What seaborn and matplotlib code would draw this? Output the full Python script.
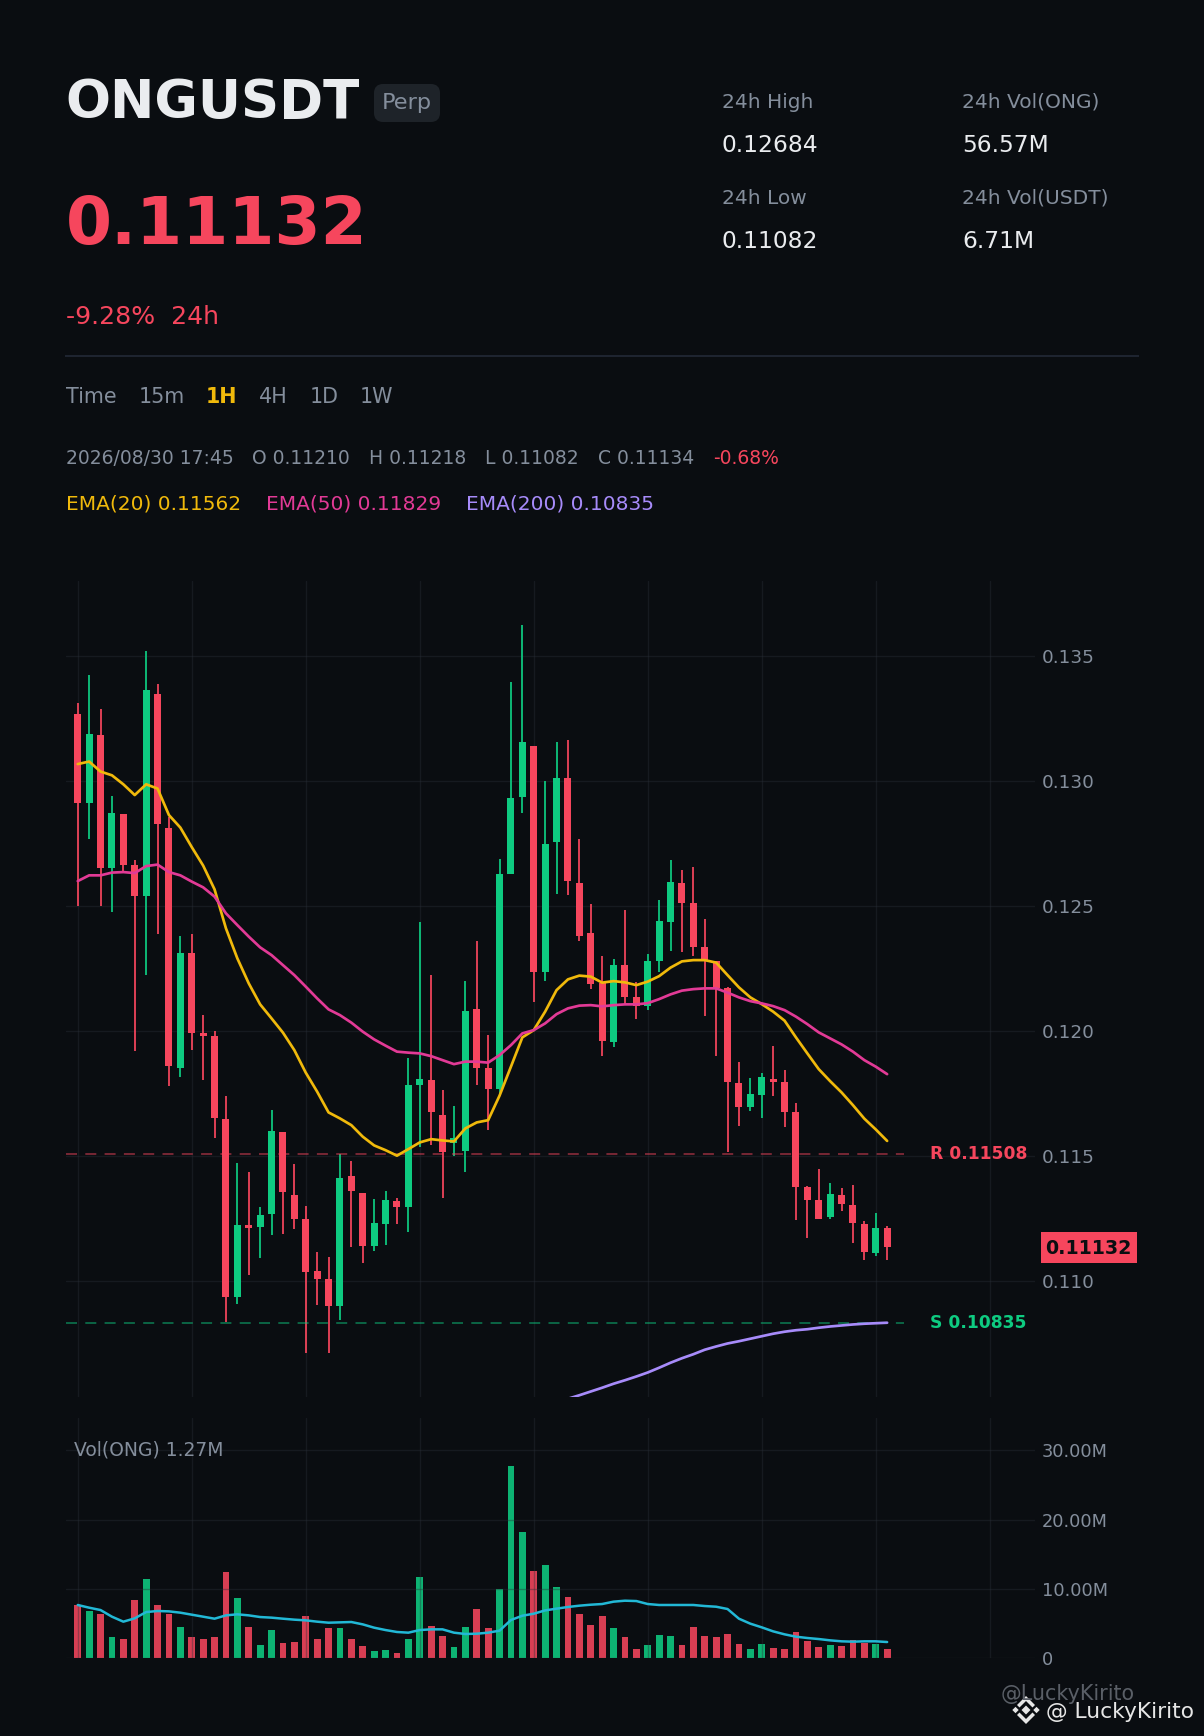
import numpy as np
import pandas as pd
import matplotlib
matplotlib.use("Agg")
import matplotlib.pyplot as plt
from matplotlib.patches import FancyBboxPatch, Rectangle, Polygon
import seaborn as sns

# ---------- data ----------
opens = [.13269,.12915,.13185,.12653,.12869,.12665,.12541,.13349,.12813,.11853,.12313,.11993,.11981,.11649,.10939,.11225,.11217,.11269,.11597,.11345,.11249,.11041,.11009,.10901,.11421,.11353,.11141,.11229,.11321,.11297,.11785,.11805,.11665,.11555,.11521,.12089,.11853,.11769,.12629,.12937,.13141,.12237,.12757,.13013,.12593,.12393,.12192,.11957,.12265,.12137,.12101,.12281,.12437,.12593,.12513,.12337,.12281,.12173,.11793,.11697,.11745,.11809,.11797,.11677,.11377,.11325,.11257,.11345,.11305,.11229,.11113,.11213]
closes = [.12915,.13189,.12653,.12873,.12665,.12541,.13365,.12829,.11863,.12313,.11995,.11983,.11655,.10939,.11225,.11213,.11265,.11601,.11357,.11249,.11037,.11009,.10901,.11413,.11361,.11141,.11233,.11325,.11297,.11785,.11809,.11677,.11517,.11572,.12081,.11853,.11769,.12629,.12933,.13157,.12237,.12749,.13013,.12601,.12383,.12189,.11961,.12265,.12137,.12101,.12281,.12441,.12597,.12513,.12337,.12281,.12172,.11797,.11697,.11749,.11817,.11797,.11677,.11377,.11325,.11249,.11349,.11309,.11233,.11117,.11213,.11137]
highs = [.13313,.13425,.13289,.12941,.12869,.12685,.13521,.13389,.12859,.12381,.12389,.12065,.12001,.11741,.11473,.11437,.11297,.11685,.11597,.11469,.11301,.11117,.11097,.11509,.11481,.11353,.11329,.11361,.11333,.11893,.12439,.12227,.11765,.11701,.12201,.12361,.11985,.12689,.13397,.13625,.13141,.13001,.13157,.13165,.12769,.12509,.12301,.12289,.12485,.12197,.12309,.12525,.12685,.12645,.12657,.12449,.12281,.12177,.11877,.11813,.11833,.11941,.11845,.11713,.11381,.11449,.11393,.11373,.11385,.11241,.11273,.11221]
lows = [.12501,.12769,.12501,.12477,.12637,.11921,.12225,.12389,.11781,.11817,.11925,.11805,.11573,.10837,.10909,.11025,.11093,.11185,.11189,.11209,.10713,.10905,.10713,.10845,.11137,.11073,.11121,.11145,.11229,.11197,.11537,.11545,.11333,.11501,.11437,.11785,.11605,.11745,.12629,.12873,.12117,.12201,.12549,.12545,.12361,.12169,.11901,.11937,.12105,.12049,.12085,.12237,.12321,.12317,.12301,.12061,.11901,.11517,.11621,.11681,.11653,.11741,.11617,.11245,.11173,.11249,.11249,.11281,.11153,.11085,.11101,.11085]
ema20 = [.13069,.13079,.13039,.13024,.12988,.12945,.12988,.12971,.12865,.12815,.12737,.12663,.12568,.12412,.12292,.12192,.12108,.12052,.11995,.11925,.11835,.11759,.11676,.11652,.11625,.11579,.11544,.11525,.11503,.11529,.11556,.11569,.11564,.11560,.11612,.11636,.11645,.11743,.11859,.11976,.12005,.12079,.12165,.12208,.12223,.12219,.12195,.12201,.12196,.12185,.12199,.12221,.12255,.12280,.12285,.12285,.12275,.12225,.12176,.12136,.12109,.12079,.12043,.11976,.11912,.11849,.11801,.11756,.11705,.11651,.11608,.11562]
ema50 = [.12601,.12624,.12624,.12635,.12637,.12633,.12661,.12667,.12637,.12624,.12599,.12576,.12539,.12472,.12425,.12379,.12336,.12305,.12265,.12225,.12179,.12132,.12088,.12065,.12035,.11999,.11968,.11943,.11919,.11915,.11912,.11901,.11885,.11869,.11879,.11879,.11875,.11905,.11945,.11992,.12005,.12032,.12069,.12092,.12103,.12105,.12100,.12105,.12108,.12108,.12113,.12129,.12148,.12163,.12169,.12172,.12172,.12155,.12136,.12121,.12112,.12101,.12085,.12059,.12029,.11996,.11972,.11948,.11919,.11885,.11859,.11829]
ema200_start = 43
ema200 = [.10531,.10545,.10560,.10575,.10591,.10605,.10620,.10636,.10655,.10675,.10693,.10709,.10727,.10740,.10752,.10761,.10771,.10781,.10791,.10799,.10805,.10809,.10815,.10820,.10824,.10828,.10831,.10833,.10835]
volumes = [7.66,6.79,6.36,3.03,2.74,8.38,11.41,7.66,6.36,4.48,3.03,2.74,3.03,12.42,8.67,4.48,1.88,4.04,2.17,2.31,6.07,2.74,4.33,4.33,2.74,1.73,1.01,1.16,0.72,2.74,11.70,4.62,3.18,1.59,4.48,7.08,4.33,9.92,27.73,18.20,12.57,13.43,10.26,8.81,6.36,4.77,6.07,4.33,3.03,1.30,1.88,3.32,3.18,1.88,4.48,3.18,3.03,3.47,2.02,1.30,2.02,1.44,1.30,3.76,2.46,1.59,1.88,1.73,2.60,2.17,2.02,1.30]
vol_ma = [7.66,7.27,6.93,5.97,5.25,5.73,6.64,6.79,6.74,6.55,6.26,5.97,5.68,6.16,6.31,6.16,5.92,5.83,5.68,5.54,5.44,5.25,5.10,5.15,5.20,4.86,4.38,4.04,3.76,3.66,4.04,4.14,4.14,3.66,3.47,3.51,3.66,3.95,5.49,6.11,6.40,6.88,7.13,7.37,7.56,7.70,7.80,8.14,8.28,8.23,7.80,7.66,7.66,7.66,7.66,7.51,7.41,7.08,5.68,4.96,4.43,3.85,3.42,3.08,2.89,2.74,2.55,2.41,2.36,2.41,2.41,2.31]
resistance = 0.11508
support = 0.10835
last_price = 0.11132
price_ticks = [0.110, 0.115, 0.120, 0.125, 0.130, 0.135]
vol_ticks = [0, 10, 20, 30]
vol_tick_labels = ["0", "10.00M", "20.00M", "30.00M"]
x_grid = list(range(0, 90, 10))

# ---------- style ----------
W, H = 1204, 1736
BG = "#0A0D11"
RED, GREEN = "#F6465D", "#0ECB81"
GREY, LIGHT = "#848E9C", "#EAECEF"
YELLOW, PINK, PURPLE, CYAN = "#F0B90B", "#E23A96", "#A78BFA", "#22B8D6"
GRID = "#2B3139"

sns.set_theme(style="dark", rc={"axes.facecolor": BG, "figure.facecolor": BG})
plt.rcParams["font.family"] = ["DejaVu Sans"]

PX = 0.72
fig = plt.figure(figsize=(W / 100, H / 100), dpi=100)


def px_axes(l, t, r, b, **kw):
    return fig.add_axes([l / W, 1 - b / H, (r - l) / W, (b - t) / H], **kw)


ax = px_axes(66, 581, 1035, 1397)
axv = px_axes(66, 1418, 1035, 1658)

n = len(closes)
idx = np.arange(n)
o, c, hi, lo = map(np.array, (opens, closes, highs, lows))
up = c > o
cols = np.where(up, GREEN, RED)

# price panel
ax.vlines(idx, lo, hi, colors=cols, lw=2 * PX, alpha=0.88, zorder=2)
ax.bar(idx, np.abs(c - o), bottom=np.minimum(o, c), width=0.62, color=cols, zorder=3, linewidth=0)
for y, col in ((resistance, RED), (support, GREEN)):
    ax.plot([-1.05, 72.5], [y, y], color=col, alpha=0.45, lw=2 * PX, dashes=(5.5, 4.15), zorder=2.5)
sns.lineplot(x=idx, y=ema20, ax=ax, color=YELLOW, lw=2.7 * PX, errorbar=None, zorder=5)
sns.lineplot(x=idx, y=ema50, ax=ax, color=PINK, lw=2.7 * PX, errorbar=None, zorder=6)
sns.lineplot(x=np.arange(ema200_start, n), y=ema200, ax=ax, color=PURPLE, lw=2.7 * PX, errorbar=None, zorder=6)
ax.set_xlim(-1.03, 83.97)
ax.set_ylim(0.10538, 0.13801)
ax.set_yticks(price_ticks)
ax.set_yticklabels([f"{t:.3f}" for t in price_ticks])
ax.set_axisbelow(True)

# volume panel
df = pd.DataFrame({"i": idx, "vol": volumes, "dir": np.where(up, "up", "down")})
sns.barplot(data=df, x="i", y="vol", hue="dir", palette={"up": GREEN, "down": RED}, dodge=False,
            native_scale=True, width=0.6, saturation=1, alpha=0.88, legend=False, ax=axv, linewidth=0, zorder=2)
sns.lineplot(x=idx, y=vol_ma, ax=axv, color=CYAN, lw=2.5 * PX, errorbar=None, zorder=5)
axv.set_xlim(-1.03, 83.97)
axv.set_ylim(0, 34.68)
axv.set_yticks(vol_ticks)
axv.set_yticklabels(vol_tick_labels)
axv.set_axisbelow(False)

for a, fs in ((ax, 18.4), (axv, 17.8)):
    a.set_xlabel("")
    a.set_ylabel("")
    a.set_xticks(x_grid)
    a.set_xticklabels([])
    a.yaxis.tick_right()
    a.tick_params(axis="both", length=0, colors=GREY, labelsize=fs * PX, pad=4.8)
    a.grid(True, color=GRID, alpha=0.38, lw=1.4 * PX)
    for s in a.spines.values():
        s.set_visible(False)
    a.patch.set_alpha(0)

# overlay in pixel coordinates for header text
ov = fig.add_axes([0, 0, 1, 1], zorder=10)
ov.set_xlim(0, W)
ov.set_ylim(H, 0)
ov.axis("off")


def T(x, y, s, px, color=GREY, weight="normal", ha="left", va="center_baseline", **kw):
    return ov.text(x, y, s, fontsize=px * PX, color=color, fontweight=weight, ha=ha, va=va, **kw)


T(65.5, 97.5, "ONGUSDT", 53, LIGHT, "bold")
ov.add_patch(FancyBboxPatch((377, 87), 60, 32, boxstyle="round,pad=0,rounding_size=6", fc="#1E2329", ec="#1E2329", lw=6 * PX))
T(382, 101, "Perp", 22.4, GREY)
T(66, 219, "0.11132", 66.2, RED, "bold")
T(66, 314.5, "-9.28%  24h", 25.1, RED)
ov.plot([65, 1139], [356, 356], color="#1E2430", lw=2 * PX, solid_capstyle="butt")

for x, s, col, wt in ((66, "Time", GREY, "normal"), (138.5, "15m", GREY, "normal"), (206, "1H", YELLOW, "bold"),
                      (259, "4H", GREY, "normal"), (310, "1D", GREY, "normal"), (360, "1W", GREY, "normal")):
    T(x, 395, s, 20.7, col, wt)
for x, s, col in ((66, "2026/08/30 17:45", GREY), (252.5, "O 0.11210", GREY), (369, "H 0.11218", GREY),
                  (485, "L 0.11082", GREY), (598, "C 0.11134", GREY), (713, "-0.68%", RED)):
    T(x, 456, s, 18.8, col)
for x, s, col in ((66, "EMA(20) 0.11562", YELLOW), (266, "EMA(50) 0.11829", PINK), (466, "EMA(200) 0.10835", PURPLE)):
    T(x, 502, s, 20.15, col)
for x, y1, s1, y2, s2 in ((721.5, 100.5, "24h High", 143.5, "0.12684"), (962.5, 100.5, "24h Vol(ONG)", 143.5, "56.57M"),
                          (721.5, 196.5, "24h Low", 238.5, "0.11082"), (962.5, 196.5, "24h Vol(USDT)", 238.5, "6.71M")):
    T(x, y1, s1, 20.2, GREY)
    T(x, y2, s2, 23.4, LIGHT)

T(1027, 1152, "R 0.11508", 17.1, RED, "bold", ha="right")
T(1027, 1320.5, "S 0.10835", 17.1, GREEN, "bold", ha="right")
ov.add_patch(Rectangle((1040.5, 1232), 96.5, 31, fc=RED, ec="none"))
T(1088.5, 1247, "0.11132", 19, "#0B0E11", "bold", ha="center")
T(74.5, 1448.5, "Vol(ONG) 1.27M", 18.8, GREY)

T(1001, 1692.5, "@LuckyKirito", 20.7, "#5A5F67")
T(1045.5, 1710, "@ LuckyKirito", 21.8, "#E6E6E6")
# Binance-style logo
LOGO = "#E6E6E6"
cx, cy = 1026, 1710


def diamond(x, y, r):
    ov.add_patch(Polygon([(x, y - r), (x + r, y), (x, y + r), (x - r, y)], fc=LOGO, ec="none"))


diamond(cx, cy, 4.5)
diamond(cx - 10.5, cy, 3.2)
diamond(cx + 10.5, cy, 3.2)
for sgn in (-1, 1):
    ov.add_patch(Polygon([(cx - 9, cy + sgn * 5), (cx, cy + sgn * 14), (cx + 9, cy + sgn * 5), (cx + 6.5, cy + sgn * 2.5),
                          (cx, cy + sgn * 9), (cx - 6.5, cy + sgn * 2.5)], fc=LOGO, ec="none"))

fig.savefig("out.png", dpi=100, facecolor=BG)
